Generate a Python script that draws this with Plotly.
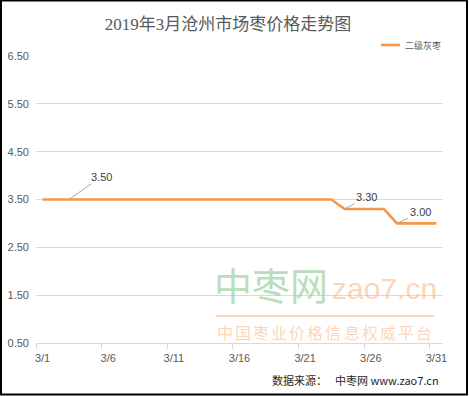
import plotly.graph_objects as go

# ---- data ----
day_labels = [f"3/{d}" for d in range(1, 32)]
days = list(range(1, 32))
prices = [3.50] * 23 + [3.30] * 4 + [3.00] * 4
series_name = "二级灰枣"
y_ticks = [0.50, 1.50, 2.50, 3.50, 4.50, 5.50, 6.50]
x_tick_days = [1, 6, 11, 16, 21, 26, 31]
label_days = [3, 24, 28]
title_text = "2019年3月沧州市场枣价格走势图"

W, H = 469, 396
L, R, T, B = 36, 26, 56, 53
PW, PH = W - L - R, H - T - B

def px(x):
    return (x - L) / PW

def py(y):
    return (H - B - y) / PH

ORANGE = "#F79646"
GRAY = "#595959"
WM_GREEN = "rgba(140,200,135,0.6)"
WM_PEACH = "rgba(250,185,140,0.6)"

fig = go.Figure()
fig.add_trace(go.Scatter(
    x=days, y=prices, mode="lines", name=series_name,
    line=dict(color=ORANGE, width=2.6), showlegend=False, hoverinfo="skip",
))

annotations = []
# data labels with leader lines
offsets = {3: (33, -23), 24: (22, -12), 28: (23, -11)}
for d in label_days:
    v = prices[d - 1]
    ax, ay = offsets[d]
    annotations.append(dict(
        x=d, y=v, xref="x", yref="y", text=f"{v:.2f}",
        showarrow=True, arrowhead=0, arrowwidth=1, arrowcolor="#a6a6a6",
        ax=ax, ay=ay, font=dict(size=11, color="#404040", family="Liberation Sans"),
        standoff=0,
    ))

# legend (manual)
annotations.append(dict(
    x=px(403), y=py(45), xref="paper", yref="paper", text=series_name,
    showarrow=False, xanchor="left", yanchor="middle",
    font=dict(size=9, color=GRAY, family="Noto Sans CJK SC"),
))

# watermark
annotations.append(dict(
    x=px(271), y=py(283), xref="paper", yref="paper", text="中枣网",
    showarrow=False, xanchor="center", yanchor="middle",
    font=dict(size=38, color=WM_GREEN, family="Noto Sans CJK SC"),
))
annotations.append(dict(
    x=px(330), y=py(288), xref="paper", yref="paper", text="zao7.cn",
    showarrow=False, xanchor="left", yanchor="middle",
    font=dict(size=30, color=WM_PEACH, family="Liberation Sans"),
))
wm_chars = "中国枣业价格信息权威平台"
for i, ch in enumerate(wm_chars):
    annotations.append(dict(
        x=px(225 + 18.08 * i), y=py(332), xref="paper", yref="paper", text=ch,
        showarrow=False, xanchor="center", yanchor="middle",
        font=dict(size=16, color=WM_PEACH, family="Noto Sans CJK SC"),
    ))

# footer
annotations.append(dict(
    x=px(270), y=py(380), xref="paper", yref="paper", text="数据来源：",
    showarrow=False, xanchor="left", yanchor="middle",
    font=dict(size=11, color="#262626", family="Noto Sans CJK SC"),
))
annotations.append(dict(
    x=px(333), y=py(380), xref="paper", yref="paper", text="中枣网 www.zao7.cn",
    showarrow=False, xanchor="left", yanchor="middle",
    font=dict(size=11, color="#262626", family="Noto Sans CJK SC"),
))

shapes = [
    # legend line
    dict(type="line", xref="paper", yref="paper", x0=px(381), x1=px(400),
         y0=py(45), y1=py(45), line=dict(color=ORANGE, width=2.6)),
    # watermark rule
    dict(type="line", xref="paper", yref="paper", x0=px(216), x1=px(434),
         y0=py(316), y1=py(316), line=dict(color=WM_PEACH, width=2)),
    # outer border
    dict(type="rect", xref="paper", yref="paper", x0=px(1), x1=px(467),
         y0=py(394.5), y1=py(0.5), line=dict(color="#000000", width=2)),
]

fig.update_layout(
    width=W, height=H,
    margin=dict(l=L, r=R, t=T, b=B, autoexpand=False),
    paper_bgcolor="white", plot_bgcolor="white",
    title=dict(text=title_text, x=228 / W, xanchor="center", y=1 - 24 / H, yanchor="middle",
               xref="container", yref="container", automargin=False,
               font=dict(size=17, color=GRAY, family="Liberation Serif, Noto Sans CJK SC")),
    annotations=annotations, shapes=shapes,
    xaxis=dict(
        range=[0.5, 31.5], tickvals=x_tick_days,
        ticktext=[day_labels[d - 1] for d in x_tick_days],
        ticks="", showgrid=False, zeroline=False, automargin=False,
        showline=True, linecolor="#d9d9d9", linewidth=1,
        tickfont=dict(size=11, color=GRAY, family="Liberation Sans"),
        ticklabelstandoff=5,
        minor=dict(tickvals=[d - 0.5 for d in x_tick_days], ticks="outside",
                   ticklen=5, tickcolor="#d9d9d9", showgrid=False),
    ),
    yaxis=dict(
        range=[0.5, 6.5], tickvals=y_ticks, ticktext=[f"{v:.2f}" for v in y_ticks],
        ticks="", showgrid=True, gridcolor="#d9d9d9", gridwidth=1,
        zeroline=False, showline=False, automargin=False,
        tickfont=dict(size=11, color=GRAY, family="Liberation Sans"),
        ticklabelstandoff=6,
    ),
)

fig.write_html(
    "out.html",
    config={"displayModeBar": False},
    post_script="document.body.style.margin='0';document.body.style.overflow='hidden';",
)
